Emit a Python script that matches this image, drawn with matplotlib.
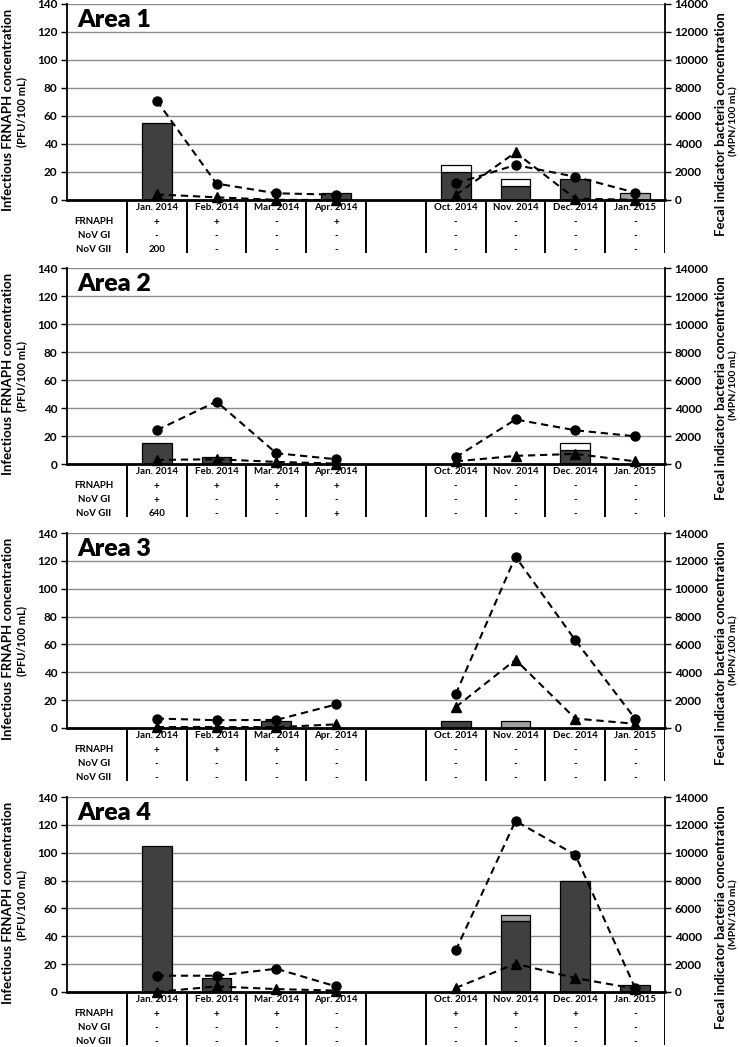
import numpy as np
import matplotlib
matplotlib.use('Agg')
import matplotlib.pyplot as plt

plt.rcParams['font.family'] = ['Lato', 'DejaVu Sans']
plt.rcParams['font.weight'] = 'bold'

# --- data -----------------------------------------------------------------
months = ['Jan. 2014', 'Feb. 2014', 'Mar. 2014', 'Apr. 2014',
          'Oct. 2014', 'Nov. 2014', 'Dec. 2014', 'Jan. 2015']
row_names = ['FRNAPH', 'NoV GI', 'NoV GII']
area_names = ['Area 1', 'Area 2', 'Area 3', 'Area 4']

# FRNAPH bars (PFU/100 mL), stacked: dark / grey / white segments
a1_dark = [55, 0, 0, 5, 20, 10, 15, 0]
a1_grey = [0, 0, 0, 0, 0, 0, 0, 5]
a1_white = [0, 0, 0, 0, 5, 5, 0, 0]
a2_dark = [15, 5, 0, 0, 0, 0, 10, 0]
a2_grey = [0, 0, 0, 0, 0, 0, 0, 0]
a2_white = [0, 0, 0, 0, 0, 0, 5, 0]
a3_dark = [0, 0, 5, 0, 5, 0, 0, 0]
a3_grey = [0, 0, 0, 0, 0, 5, 0, 0]
a3_white = [0, 0, 0, 0, 0, 0, 0, 0]
a4_dark = [105, 10, 0, 0, 0, 51, 80, 5]
a4_grey = [0, 0, 0, 0, 0, 4, 0, 0]
a4_white = [0, 0, 0, 0, 0, 0, 0, 0]

# fecal indicator bacteria (MPN/100 mL): circles and triangles
a1_circ = [7100, 1170, 480, 380, 1180, 2500, 1660, 530]
a1_tri = [400, 190, 10, 0, 360, 3400, 100, 10]
a2_circ = [2410, 4460, 770, 340, 480, 3180, 2410, 1980]
a2_tri = [290, 340, 150, 30, 190, 580, 720, 190]
a3_circ = [680, 560, 580, 1690, 2430, 12300, 6300, 670]
a3_tri = [70, 70, 60, 260, 1500, 4900, 680, 300]
a4_circ = [1170, 1170, 1670, 400, 2980, 12280, 9850, 290]
a4_tri = [10, 400, 210, 100, 290, 2030, 1000, 240]

# detection table
a1_table = [['+', '+', '-', '+', '-', '-', '-', '-'],
            ['-', '-', '-', '-', '-', '-', '-', '-'],
            ['200', '-', '-', '-', '-', '-', '-', '-']]
a2_table = [['+', '+', '+', '+', '-', '-', '-', '-'],
            ['+', '-', '-', '-', '-', '-', '-', '-'],
            ['640', '-', '-', '+', '-', '-', '-', '-']]
a3_table = [['+', '+', '+', '-', '-', '-', '-', '-'],
            ['-', '-', '-', '-', '-', '-', '-', '-'],
            ['-', '-', '-', '-', '-', '-', '-', '-']]
a4_table = [['+', '+', '+', '-', '+', '+', '+', '-'],
            ['-', '-', '-', '-', '-', '-', '-', '-'],
            ['-', '-', '-', '-', '-', '-', '-', '-']]

areas = [
    (a1_dark, a1_grey, a1_white, a1_circ, a1_tri, a1_table),
    (a2_dark, a2_grey, a2_white, a2_circ, a2_tri, a2_table),
    (a3_dark, a3_grey, a3_white, a3_circ, a3_tri, a3_table),
    (a4_dark, a4_grey, a4_white, a4_circ, a4_tri, a4_table),
]

# --- layout ----------------------------------------------------------------
W, H = 740, 1047
X0, X1 = 67, 665
tops = [4, 268, 533, 797]
zeros = [200, 464, 728, 992]
TAB_H = 54


def fx(px):
    return px / W


def fy(py):
    return 1 - py / H


# slot 0 = row label column, slot 5 = empty gap between the two periods
slots = np.r_[np.arange(1, 5), np.arange(6, 10)] + 0.5
dash = (0, (3.5, 2.3))

fig = plt.figure(figsize=(W / 100, H / 100), dpi=100)

for k, (dark, grey, white, circ, tri, table) in enumerate(areas):
    top, zero = tops[k], zeros[k]
    ax = fig.add_axes([fx(X0), fy(zero), (X1 - X0) / W, (zero - top) / H])
    ax.set_xlim(0, 10)
    ax.set_ylim(0, 140)
    ax.set_yticks(range(0, 141, 20))
    ax.set_xticks([])
    ax.yaxis.grid(True, color='#8c8c8c', lw=1)
    ax.set_axisbelow(True)
    for s in ['top', 'right']:
        ax.spines[s].set_visible(False)
    ax.spines['left'].set_linewidth(1.3)
    ax.spines['bottom'].set_linewidth(2)
    ax.tick_params(axis='y', length=4, width=1, pad=3, labelsize=8.5)

    dark = np.array(dark, float)
    grey = np.array(grey, float)
    white = np.array(white, float)
    for vals, bottom, col in [(dark, 0 * dark, '#404040'),
                              (grey, dark, '#a0a0a0'),
                              (white, dark + grey, 'white')]:
        m = vals > 0
        ax.bar(slots[m], vals[m], 0.5, bottom=bottom[m], color=col,
               edgecolor='black', lw=0.9, zorder=2)

    ax.text(0.018, 1 - 16 / (zero - top), area_names[k], transform=ax.transAxes,
            fontsize=18, fontweight='heavy', ha='left', va='center')

    ax2 = ax.twinx()
    ax2.set_ylim(0, 14000)
    ax2.set_yticks(range(0, 14001, 2000))
    for s in ['top', 'left', 'bottom']:
        ax2.spines[s].set_visible(False)
    ax2.spines['right'].set_linewidth(1.3)
    ax2.tick_params(axis='y', length=4, width=1, pad=3, labelsize=8.5)
    for part in (slice(0, 4), slice(4, 8)):
        ax2.plot(slots[part], np.array(circ)[part], color='black', lw=1.5,
                 ls=dash, marker='o', ms=6.5, clip_on=False, zorder=3)
        ax2.plot(slots[part], np.array(tri)[part], color='black', lw=1.5,
                 ls=dash, marker='^', ms=6.5, clip_on=False, zorder=3)

    # data table under the chart
    tab = fig.add_axes([fx(X0), fy(zero + TAB_H), (X1 - X0) / W, TAB_H / H])
    tab.set_xlim(0, 10)
    tab.set_ylim(TAB_H, 0)
    tab.axis('off')
    tab.vlines(np.arange(1, 11), 0, TAB_H - 1, color='black', lw=1.4)
    for i, mth in enumerate(months):
        tab.text(slots[i], 8, mth, ha='center', va='center', fontsize=7)
    for r, name in enumerate(row_names):
        y = 22 + 14 * r
        tab.text(0.45, y, name, ha='center', va='center', fontsize=7)
        for i, v in enumerate(table[r]):
            tab.text(slots[i], y, v, ha='center', va='center', fontsize=7)

    # axis titles
    fig.text(fx(8), fy(top + 106), 'Infectious FRNAPH concentration',
             rotation=90, ha='center', va='center', fontsize=9.5)
    fig.text(fx(22), fy(top + 108), '(PFU/100 mL)',
             rotation=90, ha='center', va='center', fontsize=8)
    fig.text(fx(721), fy(top + 120), 'Fecal indicator bacteria concentration',
             rotation=90, ha='center', va='center', fontsize=9.5)
    fig.text(fx(734), fy(top + 117), '(MPN/100 mL)',
             rotation=90, ha='center', va='center', fontsize=7.5)

fig.savefig('out.png', dpi=100)
